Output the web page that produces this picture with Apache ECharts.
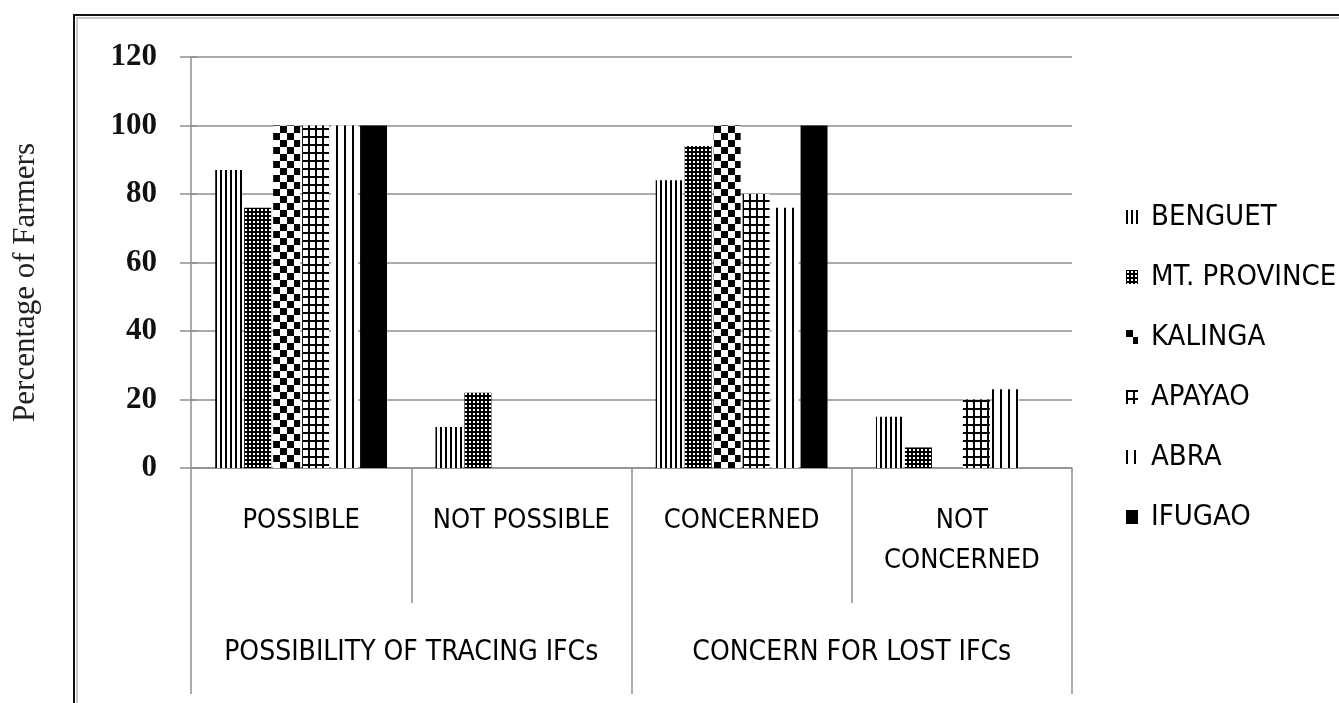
<!DOCTYPE html>
<html>
<head>
<meta charset="utf-8">
<script src="https://cdn.jsdelivr.net/npm/echarts@6/dist/echarts.min.js"></script>
<style>
  html, body { margin: 0; padding: 0; background: #fff; }
  #chart { width: 1339px; height: 703px; }
</style>
</head>
<body>
<div id="chart"></div>
<script>
// Responses grouped under two survey questions
const groups = ['POSSIBILITY OF TRACING IFCs', 'CONCERN FOR LOST IFCs'];
const categories = ['POSSIBLE', 'NOT POSSIBLE', 'CONCERNED', 'NOT\nCONCERNED'];
const yTicks = [0, 20, 40, 60, 80, 100, 120];

// Percentage of farmers per province, one value per category
const provinces = ['BENGUET', 'MT. PROVINCE', 'KALINGA', 'APAYAO', 'ABRA', 'IFUGAO'];
const benguet    = [87, 12, 84, 15];
const mtProvince = [76, 22, 94, 6];
const kalinga    = [100, 0, 100, 0];
const apayao     = [100, 0, 80, 20];
const abra       = [100, 0, 76, 23];
const ifugao     = [100, 0, 100, 0];
const provinceValues = [benguet, mtProvince, kalinga, apayao, abra, ifugao];

// Black-and-white fill patterns, one per province
function pattern(w, h, draw) {
  const c = document.createElement('canvas');
  c.width = w; c.height = h;
  const ctx = c.getContext('2d');
  ctx.fillStyle = '#fff';
  ctx.fillRect(0, 0, w, h);
  ctx.fillStyle = '#000';
  draw(ctx);
  return { image: c, repeat: 'repeat' };
}
const fills = [
  // narrow vertical lines
  pattern(5, 4, ctx => ctx.fillRect(0, 0, 2, 4)),
  // dense dotted grid
  pattern(4, 4, ctx => { ctx.fillRect(0, 0, 4, 4); ctx.fillStyle = '#fff'; ctx.fillRect(1, 1, 2, 2); }),
  // large checkerboard
  pattern(14, 14, ctx => { ctx.fillRect(0, 0, 7, 7); ctx.fillRect(7, 7, 7, 7); }),
  // grid of thin verticals and heavier horizontals
  pattern(7, 8, ctx => { ctx.fillRect(0, 0, 2, 8); ctx.fillRect(0, 0, 7, 2); }),
  // wide vertical lines
  pattern(8, 4, ctx => ctx.fillRect(0, 0, 2, 4)),
  // solid
  '#000'
];

const sansFont = "'Liberation Sans Narrow', 'DejaVu Sans Condensed', 'Liberation Sans', sans-serif";
const serifFont = "'Liberation Serif', 'DejaVu Serif', serif";
const gray = '#8f8f8f';

const chart = echarts.init(document.getElementById('chart'), null, { renderer: 'canvas' });

chart.setOption({
  backgroundColor: '#fff',
  animation: false,
  grid: { left: 191, right: 267, top: 57, bottom: 235, containLabel: false },
  legend: {
    orient: 'vertical',
    left: 1121,
    top: 197,
    itemWidth: 12,
    itemHeight: 14,
    itemGap: 30,
    icon: 'rect',
    data: provinces,
    textStyle: {
      fontFamily: sansFont, fontSize: 29, lineHeight: 30, color: '#000',
      padding: [0, 0, 0, 8]
    }
  },
  xAxis: [
    {
      type: 'category',
      data: categories,
      position: 'bottom',
      axisLine: { show: true, lineStyle: { color: gray, width: 1.5 } },
      axisTick: { show: true, interval: 0, length: 135, lineStyle: { color: gray, width: 1.5 } },
      axisLabel: {
        interval: 0, margin: 33, fontFamily: sansFont, fontSize: 27,
        lineHeight: 40, color: '#000'
      },
      splitLine: { show: false }
    },
    {
      type: 'category',
      data: groups,
      position: 'bottom',
      offset: 0,
      axisLine: { show: false },
      axisTick: { show: true, interval: 0, length: 226, lineStyle: { color: gray, width: 1.5 } },
      axisLabel: {
        interval: 0, margin: 165, fontFamily: sansFont, fontSize: 28,
        lineHeight: 40, color: '#000'
      },
      splitLine: { show: false }
    }
  ],
  yAxis: [
    {
      type: 'value',
      min: yTicks[0],
      max: yTicks[yTicks.length - 1],
      interval: yTicks[1] - yTicks[0],
      name: 'Percentage of Farmers',
      nameLocation: 'middle',
      nameRotate: 90,
      nameGap: 150,
      nameTextStyle: {
        fontFamily: serifFont, fontSize: 31, color: '#222',
        padding: [0, 40, 0, 0]
      },
      axisLine: { show: true, lineStyle: { color: gray, width: 1.5 } },
      axisTick: { show: true, inside: false, length: 11, lineStyle: { color: gray, width: 1.5 } },
      axisLabel: {
        margin: 34, fontFamily: serifFont, fontSize: 31, fontWeight: 'bold', color: '#111',
        padding: [0, 0, 6, 0]
      },
      splitLine: { show: true, lineStyle: { color: gray, width: 1.5 } }
    },
    {
      type: 'value',
      position: 'left',
      min: yTicks[0],
      max: yTicks[yTicks.length - 1],
      interval: yTicks[1] - yTicks[0],
      axisLine: { show: false },
      axisTick: { show: true, inside: true, length: 6, lineStyle: { color: gray, width: 1.5 } },
      axisLabel: { show: false },
      splitLine: { show: false }
    }
  ],
  series: provinces.map((name, i) => ({
    name: name,
    type: 'bar',
    xAxisIndex: 0,
    yAxisIndex: 0,
    data: provinceValues[i],
    barGap: '7.5%',
    barCategoryGap: '22%',
    itemStyle: { color: fills[i] }
  })),
  graphic: [
    // double frame around the chart area
    {
      type: 'polyline', silent: true, z: 100,
      shape: { points: [[77, 703], [77, 18], [1339, 18]] },
      style: { stroke: '#c8c8c8', lineWidth: 2, fill: null }
    },
    {
      type: 'polyline', silent: true, z: 101,
      shape: { points: [[74, 703], [74, 15], [1339, 15]] },
      style: { stroke: '#111', lineWidth: 2, fill: null }
    }
  ]
});
</script>
</body>
</html>
